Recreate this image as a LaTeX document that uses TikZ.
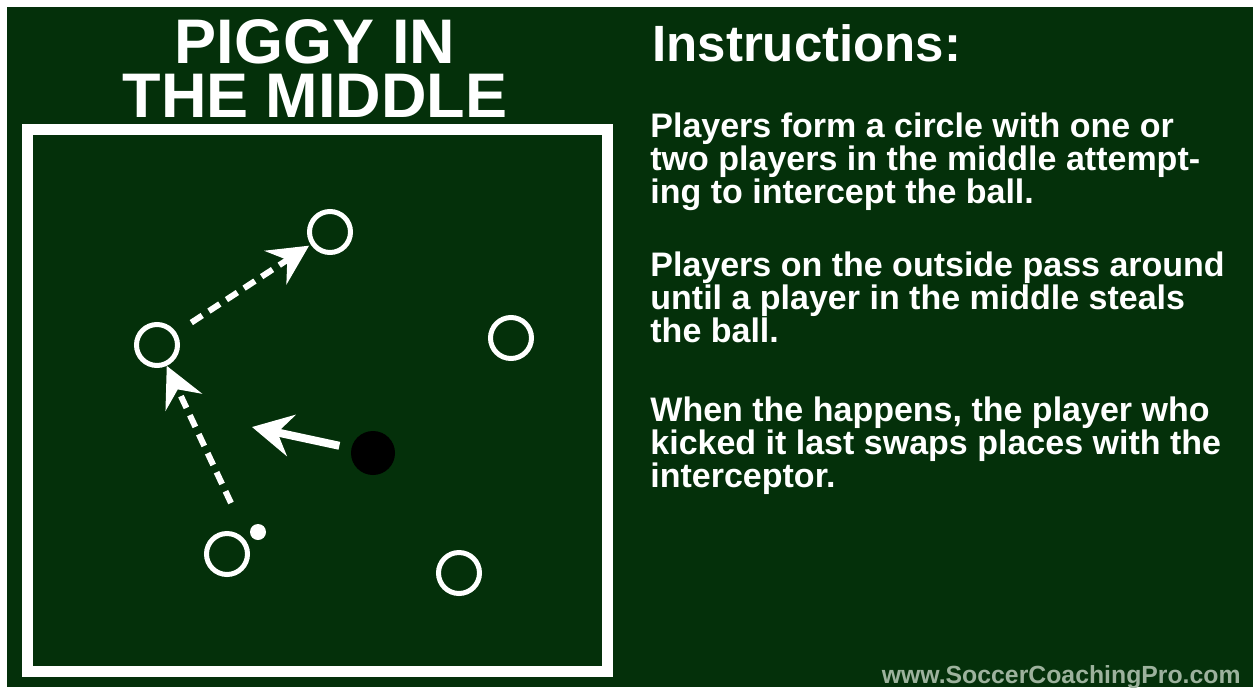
\documentclass[tikz,border=0pt]{standalone}
\usepackage{fontspec}
\setmainfont{Liberation Sans}
\usetikzlibrary{arrows.meta, positioning}
\definecolor{cpitch}{HTML}{04300A}
\definecolor{cmark}{HTML}{9DB29D}
\tikzset{
  every picture/.style={font=\bfseries, x=0.5pt, y=-0.5pt},
  player/.style={circle, draw=white, line width=2.5pt, minimum size=20.5pt, inner sep=0pt},
  piggy/.style={circle, fill=black, minimum size=22pt, inner sep=0pt},
  ball/.style={circle, fill=white, minimum size=8pt, inner sep=0pt},
  pass/.style={-{Stealth[length=20pt, width=20pt, inset=7pt]}, draw=white, line width=3pt, dash pattern=on 6.5pt off 4pt},
  run/.style={-{Stealth[length=20pt, width=21pt, inset=7pt]}, draw=white, line width=4pt},
  title/.style={text=white, font=\bfseries\fontsize{31.5pt}{27pt}\selectfont, align=center, inner sep=0pt},
  head/.style={text=white, font=\bfseries\fontsize{25.5pt}{30pt}\selectfont, inner sep=0pt},
  note/.style={text=white, font=\bfseries\fontsize{17pt}{16.5pt}\selectfont, align=left, inner sep=0pt, anchor=north west},
}

\begin{document}
\begin{tikzpicture}
  \useasboundingbox (0,0) rectangle (1253,687);
  \fill[white] (0,0) rectangle (1253,687);
  \fill[cpitch] (7,7) rectangle (1253,687);
  % the pitch
  \node[title, anchor=north] (name) at (315,19) {PIGGY IN\\THE MIDDLE};
  \draw[white, line width=5.5pt] (27,129) rectangle (607,671);
  % players round the circle
  \foreach \n/\x/\y in {pl1/157/345, pl2/330/232, pl3/511/338, pl4/227/554, pl5/459/573} {
    \node[player] (\n) at (\x,\y) {};
  }
  \node[piggy] (pig) at (373,453) {};
  \node[ball] (ball) at (258,532) {};
  \coordinate (kick) at (231,503);
  \coordinate (chase) at (252,427);
  \draw[pass, shorten <=9pt, shorten >=1pt] (pl1) -- (pl2);
  \draw[pass] (kick) -- (pl1);
  \draw[run, shorten <=6pt] (pig) -- (chase);
  % instructions
  \node[head, anchor=base west] (instr) at (652,61) {Instructions:};
  \node[note] (rule1) at (650,112) {Players form a circle with one or\\two players in the middle attempt-\\ing to intercept the ball.};
  \node[note] (rule2) at (650,251) {Players on the outside pass around\\until a player in the middle steals\\the ball.};
  \node[note] (rule3) at (650,396) {When the happens, the player who\\kicked it last swaps places with the\\interceptor.};
  \node[text=cmark, font=\bfseries\fontsize{12.4pt}{14pt}\selectfont, inner sep=0pt, anchor=base east] (site) at (1241,683) {www.SoccerCoachingPro.com};
\end{tikzpicture}
\end{document}
